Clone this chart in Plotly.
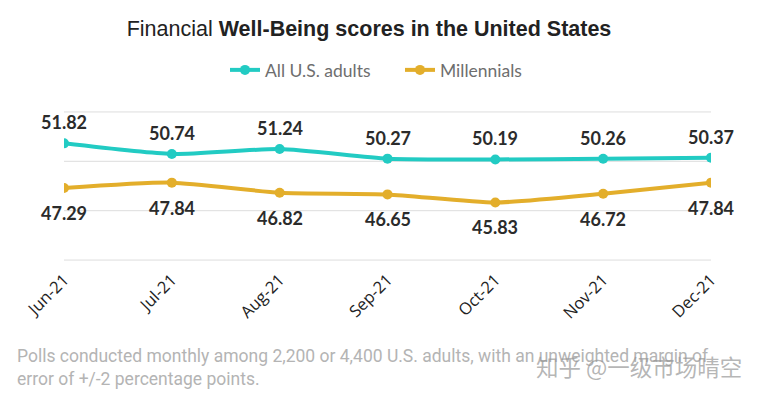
import plotly.graph_objects as go

months = ["Jun-21", "Jul-21", "Aug-21", "Sep-21", "Oct-21", "Nov-21", "Dec-21"]
all_adults = [51.82, 50.74, 51.24, 50.27, 50.19, 50.26, 50.37]
millennials = [47.29, 47.84, 46.82, 46.65, 45.83, 46.72, 47.84]
grid_values = [40, 45, 50, 55]

TEAL = "#22CBC3"
GOLD = "#E3AE2B"

# page body has an 8px margin, so the figure is sized to fit the window
W, H = 753, 388
ML, MR, MT, MB = 56, 50, 99, 131
PW = W - ML - MR
PH = H - MT - MB


def px_x(x):
    return (x - ML) / PW


def px_y(y):
    return (H - MB - y) / PH


fig = go.Figure()
fig.add_trace(go.Scatter(
    x=months, y=all_adults, name="All U.S. adults", mode="lines+markers",
    line=dict(color=TEAL, width=4, shape="spline", smoothing=0.6),
    marker=dict(color=TEAL, size=10),
))
fig.add_trace(go.Scatter(
    x=months, y=millennials, name="Millennials", mode="lines+markers",
    line=dict(color=GOLD, width=4, shape="spline", smoothing=0.6),
    marker=dict(color=GOLD, size=10),
))

for g in grid_values:
    fig.add_shape(type="line", xref="paper", yref="y", x0=0, x1=1, y0=g, y1=g,
                  line=dict(color="#dddddd", width=1), layer="below")

label_font = dict(family="Lato", size=18, color="#2b2b2b", weight="bold")
annotations = []
for m, v in zip(months, all_adults):
    annotations.append(dict(x=m, y=v, xref="x", yref="y", text=f"{v:.2f}",
                            showarrow=False, yshift=21, font=label_font))
for m, v in zip(months, millennials):
    annotations.append(dict(x=m, y=v, xref="x", yref="y", text=f"{v:.2f}",
                            showarrow=False, yshift=-25, font=label_font))

annotations.append(dict(
    xref="paper", yref="paper", x=px_x(7), xanchor="left",
    y=px_y(359.5), yanchor="middle",
    text="Polls conducted monthly among 2,200 or 4,400 U.S. adults, with an unweighted margin of<br>error of +/-2 percentage points.",
    align="left", showarrow=False,
    font=dict(family="Roboto", size=17.5, color="#b4b4b4"),
))
annotations.append(dict(
    xref="paper", yref="paper", x=px_x(736), xanchor="right",
    y=px_y(358), yanchor="middle",
    text="知乎 @一级市场晴空", showarrow=False,
    font=dict(family="Noto Sans CJK SC", size=22.5, color="rgba(150,150,150,0.7)"),
))

fig.update_layout(
    width=W, height=H,
    margin=dict(l=ML, r=MR, t=MT, b=MB, autoexpand=False),
    paper_bgcolor="white", plot_bgcolor="white",
    title=dict(text="Financial <b>Well-Being scores in the United States</b>",
               xref="container", yref="container",
               x=361 / W, xanchor="center", y=1 - 20 / H, yanchor="middle",
               font=dict(family="Liberation Sans", size=21.5, color="#222222")),
    legend=dict(orientation="h", xref="container", yref="container",
                x=217 / W, xanchor="left",
                y=1 - 62 / H, yanchor="middle",
                font=dict(family="Lato", size=17.5, color="#6e6e6e"),
                itemwidth=30, entrywidth=130, tracegroupgap=0),
    showlegend=True,
    xaxis=dict(range=[0, 6], showgrid=False, zeroline=False, showline=False,
               tickangle=-45, tickfont=dict(family="Open Sans", size=16.5, color="#222222"),
               ticks="", ticklabelstandoff=1),
    yaxis=dict(range=[39.5, 55.5], tickvals=grid_values, showgrid=False,
               zeroline=False, showline=False, showticklabels=False, ticks=""),
    annotations=annotations,
)

fig.write_html("out.html")
